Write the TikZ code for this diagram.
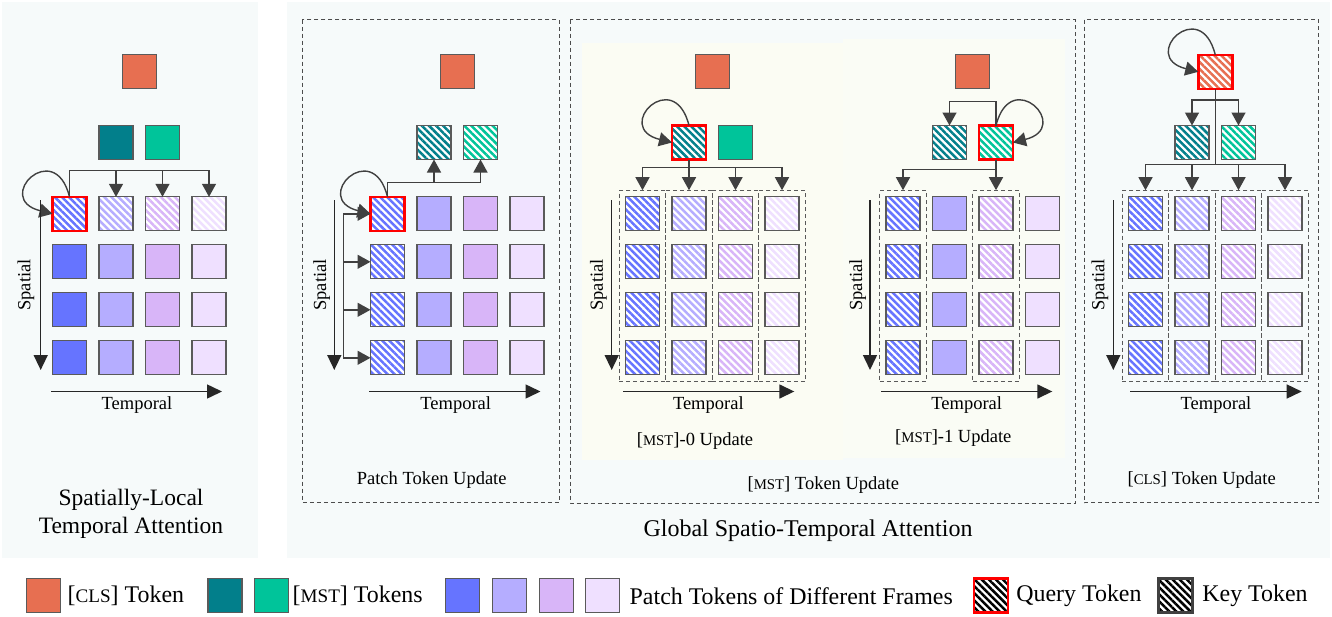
\documentclass[tikz,border=0pt]{standalone}
\usepackage{fontspec}
\setmainfont{Liberation Serif}
\usepackage{graphicx}
\usetikzlibrary{patterns.meta,arrows.meta}

\definecolor{clsc}{HTML}{E76F51}
\definecolor{msta}{HTML}{027F8B}
\definecolor{mstb}{HTML}{00C49A}
\definecolor{pa}{HTML}{6674FF}
\definecolor{pb}{HTML}{B5ADFF}
\definecolor{pc}{HTML}{D8B5F8}
\definecolor{pd}{HTML}{EFE0FF}
\definecolor{bgc}{HTML}{F6FAFA}
\definecolor{subbga}{HTML}{FBFCF3}
\definecolor{subbgb}{HTML}{FAFCF5}
\definecolor{edgec}{HTML}{5A5A5A}
\definecolor{conncol}{HTML}{404040}
\definecolor{qred}{HTML}{FF0000}

\newcommand\smc[1]{\scalebox{0.8}{#1}}

\tikzset{
 tok/.style={draw=edgec, line width=1.3pt, minimum size=34pt, inner sep=0pt, outer sep=0pt},
 stok/.style={tok, fill=#1},
 htok/.style={tok, preaction={fill=white}, pattern={Lines[angle=-45,distance=5pt,line width=2.5pt]}, pattern color=#1},
 query/.style={draw=qred, line width=2.6pt},
 keyb/.style={draw=conncol, line width=2.6pt},
 conn/.style={draw=conncol, line width=1.4pt},
 arr/.style={conn, -{Triangle[length=13pt,width=14pt]}},
 axis/.style={draw=black!85, line width=1.5pt, -{Triangle[length=15pt,width=14pt]}},
 panelbox/.style={draw=black!70, line width=0.9pt, dash pattern=on 4pt off 3pt},
 colbox/.style={draw=black!65, line width=1pt, dash pattern=on 4pt off 3pt, minimum width=46.5pt, minimum height=191pt, inner sep=0pt},
 lab/.style={font=\fontsize{18.5}{22}\selectfont, inner sep=0pt},
 big/.style={font=\fontsize{23.5}{28}\selectfont, inner sep=0pt, align=center},
 leg/.style={font=\fontsize{23.9}{28}\selectfont, inner sep=0pt, anchor=west},
}

\begin{document}
\begin{tikzpicture}[x=1pt,y=-1pt]
\useasboundingbox (0,0) rectangle (1332,616);

% backgrounds
\fill[bgc] (2,2) rectangle (258,558);
\fill[bgc] (287,2) rectangle (1330,558);
\fill[subbga] (581.5,43) rectangle (843,460);
\fill[subbgb] (843,39) rectangle (1065,458);

% panel boxes
\draw[panelbox] (302.3,19.5) rectangle (559.3,502);
\draw[panelbox] (570,19.5) rectangle (1075,503);
\draw[panelbox] (1084,19.5) rectangle (1318.3,502.5);

% ================= Left panel =================
\node[stok=clsc] (L-cls) at (139.25,71.8) {};
\node[stok=msta] (L-m1) at (116,142.5) {};
\node[stok=mstb] (L-m2) at (162.5,142.5) {};
\node[htok=pa, query] (L-1-1) at (69.5,213.8) {};
\foreach \c/\col in {2/pb,3/pc,4/pd}
  \node[htok=\col] (L-1-\c) at ({69.5+46.5*(\c-1)},213.8) {};
\foreach \c/\col in {1/pa,2/pb,3/pc,4/pd}
  \foreach \r in {2,3,4}
    \node[stok=\col] (L-\r-\c) at ({69.5+46.5*(\c-1)},{213.8+48*(\r-1)}) {};
\coordinate (L-bar) at (0,170.7);
\draw[arr] (L-1-1.north) -- (L-1-1.north |- L-bar) -| (L-1-4.north);
\foreach \c in {2,3} \draw[arr] (L-1-\c.north |- L-bar) -- (L-1-\c.north);
\draw[arr] (L-1-1.north) .. controls +(-15,-60) and +(-60,-15) .. (L-1-1.west);
\coordinate (L-s0) at (40.7,200); \coordinate (L-s1) at (40.7,370);
\draw[axis] (L-s0) -- (L-s1);
\node[lab, rotate=90] (L-sl) at (26,285) {Spatial};
\coordinate (L-t0) at (51,391.5); \coordinate (L-t1) at (222,391.5);
\draw[axis] (L-t0) -- (L-t1);
\node[lab] (L-tl) at (137,405) {Temporal};
\node[big] (L-title) at (131,514) {Spatially-Local\\Temporal Attention};

% ================= Patch panel =================
\node[stok=clsc] (P-cls) at (457.25,71.8) {};
\node[htok=msta] (P-m1) at (434,142.5) {};
\node[htok=mstb] (P-m2) at (480.5,142.5) {};
\node[htok=pa, query] (P-1-1) at (387.5,213.8) {};
\foreach \r in {2,3,4}
  \node[htok=pa] (P-\r-1) at (387.5,{213.8+48*(\r-1)}) {};
\foreach \c/\col in {2/pb,3/pc,4/pd}
  \foreach \r in {1,2,3,4}
    \node[stok=\col] (P-\r-\c) at ({387.5+46.5*(\c-1)},{213.8+48*(\r-1)}) {};
\coordinate (P-bar) at (0,182.7);
\draw[arr] (P-1-1.north) -- (P-1-1.north |- P-bar) -| (P-m2.south);
\draw[arr] (P-m1.south |- P-bar) -- (P-m1.south);
\coordinate (P-br) at (343.3,0);
\draw[conn] (P-1-1.west -| P-br) -- (P-4-1.west -| P-br);
\foreach \r in {1,2,3,4} \draw[arr] (P-\r-1.west -| P-br) -- (P-\r-1.west);
\draw[arr] (P-1-1.north) .. controls +(-15,-60) and +(-60,-15) .. (P-1-1.west);
\coordinate (P-s0) at (334.3,200); \coordinate (P-s1) at (334.3,370);
\draw[axis] (P-s0) -- (P-s1);
\node[lab, rotate=90] (P-sl) at (321.7,285) {Spatial};
\coordinate (P-t0) at (369,391.5); \coordinate (P-t1) at (540.5,391.5);
\draw[axis] (P-t0) -- (P-t1);
\node[lab] (P-tl) at (455.7,405) {Temporal};
\node[lab] (P-name) at (431.7,480) {Patch Token Update};

% ================= MST-0 =================
\foreach \c in {1,2,3,4}
  \node[colbox] (M0-b\c) at ({642.5+46.5*(\c-1)},286.2) {};
\node[stok=clsc] (M0-cls) at (712.25,71.8) {};
\node[htok=msta, query] (M0-m1) at (689,142.5) {};
\node[stok=mstb] (M0-m2) at (735.5,142.5) {};
\foreach \c/\col in {1/pa,2/pb,3/pc,4/pd}
  \foreach \r in {1,2,3,4}
    \node[htok=\col] (M0-\r-\c) at ({642.5+46.5*(\c-1)},{213.8+48*(\r-1)}) {};
\coordinate (M0-bar) at (0,167.7);
\draw[arr] (M0-m1.south) -- (M0-m1.south |- M0-bar) -| (M0-b1.north);
\draw[arr] (M0-m1.south |- M0-bar) -| (M0-b4.north);
\foreach \c in {2,3} \draw[arr] (M0-b\c.north |- M0-bar) -- (M0-b\c.north);
\draw[arr] (M0-m1.north) .. controls +(-15,-60) and +(-60,-15) .. (M0-m1.west);
\coordinate (M0-s0) at (611.7,200); \coordinate (M0-s1) at (611.7,370);
\draw[axis] (M0-s0) -- (M0-s1);
\node[lab, rotate=90] (M0-sl) at (598.3,285) {Spatial};
\coordinate (M0-t0) at (623.3,391.5); \coordinate (M0-t1) at (794.3,391.5);
\draw[axis] (M0-t0) -- (M0-t1);
\node[lab] (M0-tl) at (708.3,405) {Temporal};
\node[lab] (M0-name) at (695,440.7) {[\smc{MST}]-0 Update};

% ================= MST-1 =================
\foreach \c in {1,3}
  \node[colbox] (M1-b\c) at ({903+46.5*(\c-1)},286.2) {};
\node[stok=clsc] (M1-cls) at (972.75,71.8) {};
\node[htok=msta] (M1-m1) at (949.5,142.5) {};
\node[htok=mstb, query] (M1-m2) at (996,142.5) {};
\foreach \c/\col in {1/pa,3/pc}
  \foreach \r in {1,2,3,4}
    \node[htok=\col] (M1-\r-\c) at ({903+46.5*(\c-1)},{213.8+48*(\r-1)}) {};
\foreach \c/\col in {2/pb,4/pd}
  \foreach \r in {1,2,3,4}
    \node[stok=\col] (M1-\r-\c) at ({903+46.5*(\c-1)},{213.8+48*(\r-1)}) {};
\coordinate (M1-bar) at (0,169.3);
\coordinate (M1-top) at (0,101.7);
\draw[arr] (M1-m2.south) -- (M1-b3.north);
\draw[arr] (M1-m2.south |- M1-bar) -| (M1-b1.north);
\draw[arr] (M1-m2.north) -- (M1-m2.north |- M1-top) -| (M1-m1.north);
\draw[arr] (M1-m2.north) .. controls +(15,-60) and +(60,-15) .. (M1-m2.east);
\coordinate (M1-s0) at (870,200); \coordinate (M1-s1) at (870,370);
\draw[axis] (M1-s0) -- (M1-s1);
\node[lab, rotate=90] (M1-sl) at (857.7,285) {Spatial};
\coordinate (M1-t0) at (881,391.5); \coordinate (M1-t1) at (1052.3,391.5);
\draw[axis] (M1-t0) -- (M1-t1);
\node[lab] (M1-tl) at (966.7,405) {Temporal};
\node[lab] (M1-name) at (953.3,438.3) {[\smc{MST}]-1 Update};
\node[lab] (M-name) at (823.3,485) {[\smc{MST}] Token Update};

% ================= CLS panel =================
\foreach \c in {1,2,3,4}
  \node[colbox] (C-b\c) at ({1145.5+46.5*(\c-1)},286.2) {};
\node[htok=clsc, query] (C-cls) at (1215.25,71.8) {};
\node[htok=msta] (C-m1) at (1192,142.5) {};
\node[htok=mstb] (C-m2) at (1238.5,142.5) {};
\foreach \c/\col in {1/pa,2/pb,3/pc,4/pd}
  \foreach \r in {1,2,3,4}
    \node[htok=\col] (C-\r-\c) at ({1145.5+46.5*(\c-1)},{213.8+48*(\r-1)}) {};
\coordinate (C-bar1) at (0,100);
\coordinate (C-bar2) at (0,164.3);
\draw[conn] (C-cls.south) -- (C-cls.south |- C-bar2);
\draw[arr] (C-cls.south |- C-bar1) -| (C-m1.north);
\draw[arr] (C-cls.south |- C-bar1) -| (C-m2.north);
\draw[arr] (C-cls.south |- C-bar2) -| (C-b1.north);
\draw[arr] (C-cls.south |- C-bar2) -| (C-b4.north);
\foreach \c in {2,3} \draw[arr] (C-b\c.north |- C-bar2) -- (C-b\c.north);
\draw[arr] (C-cls.north) .. controls +(-15,-60) and +(-60,-15) .. (C-cls.west);
\coordinate (C-s0) at (1113.3,200); \coordinate (C-s1) at (1113.3,370);
\draw[axis] (C-s0) -- (C-s1);
\node[lab, rotate=90] (C-sl) at (1100,285) {Spatial};
\coordinate (C-t0) at (1130,391.5); \coordinate (C-t1) at (1301.7,391.5);
\draw[axis] (C-t0) -- (C-t1);
\node[lab] (C-tl) at (1216,405) {Temporal};
\node[lab] (C-name) at (1201.7,480) {[\smc{CLS}] Token Update};

% global title
\node[big, font=\fontsize{24}{28}\selectfont] (G-title) at (808,531) {Global Spatio-Temporal Attention};

% ================= Legend =================
\node[stok=clsc] (K-cls) at (43.8,595.3) {};
\node[leg] (K-clst) at (67.5,596) {[\smc{CLS}] Token};
\node[stok=msta] (K-m1) at (225,595.3) {};
\node[stok=mstb] (K-m2) at (271.2,595.3) {};
\node[leg] (K-mstt) at (292.5,596) {[\smc{MST}] Tokens};
\node[stok=pa] (K-p1) at (462.8,595.3) {};
\node[stok=pb] (K-p2) at (509.8,595.3) {};
\node[stok=pc] (K-p3) at (556.5,595.3) {};
\node[stok=pd] (K-p4) at (602.8,595.3) {};
\node[leg] (K-pt) at (629.5,596) {Patch Tokens of Different Frames};
\node[htok=black, query] (K-q) at (990.8,595.5) {};
\node[leg] (K-qt) at (1016.2,596) {Query Token};
\node[htok=black, keyb] (K-k) at (1175.3,595.5) {};
\node[leg] (K-kt) at (1202.2,596) {Key Token};
\end{tikzpicture}
\end{document}
